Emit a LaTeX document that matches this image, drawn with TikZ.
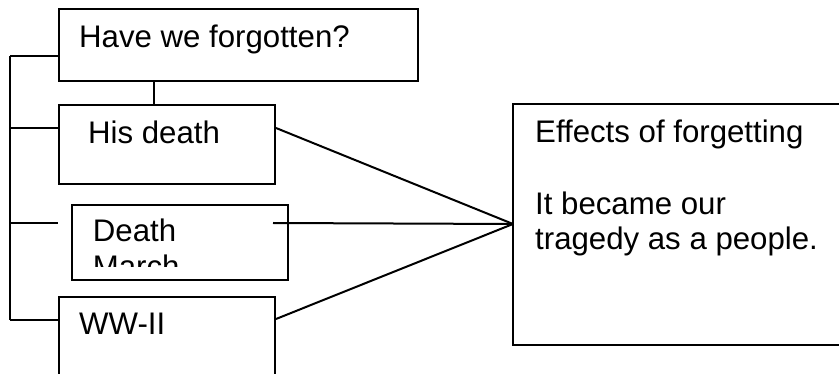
\documentclass[tikz,border=0pt]{standalone}
\usepackage{fontspec}
\setmainfont{Liberation Sans}
\begin{document}
\begin{tikzpicture}[x=1pt,y=-1pt,
  box/.style={draw, line width=2pt, rectangle, inner sep=0pt, anchor=north west},
  conn/.style={line width=2pt},
  lbl/.style={inner sep=0pt, anchor=base west, font=\fontsize{31.2}{35.6}\selectfont}]
\useasboundingbox (0,0) rectangle (839,374);
\clip (0,0) rectangle (839,374);
% boxes
\node[box, minimum width=359pt, minimum height=72pt] (top) at (58,8) {};
\node[box, minimum width=216pt, minimum height=79pt] (his) at (58,104) {};
\node[box, minimum width=216pt, minimum height=75pt] (march) at (71,204) {};
\node[box, minimum width=216pt, minimum height=100pt] (ww) at (58,296) {};
\node[box, draw=none, minimum width=450pt, minimum height=239pt] (eff) at (513,104) {};
\draw[conn] (eff.north east) -- (eff.north west) -- (eff.south west) -- (eff.south east);
% texts
\node[lbl] (ttop) at (79,48) {Have we forgotten?};
\node[lbl] (this) at (88,144) {His death};
\begin{scope}
\clip (72,205) rectangle (286,267);
\node[lbl, align=left, anchor=north west] (tmarch) at (92.7,219) {Death\\March};
\end{scope}
\node[lbl] (tww) at (79,335) {WW-II};
\node[lbl, align=left, anchor=north west] (teff) at (535,120) {Effects of forgetting\\[35.6pt]It became our\\tragedy as a people.};
% connectors
\coordinate (b1) at (10,56);
\coordinate (b2) at (10,128);
\coordinate (b3) at (10,223);
\coordinate (b4) at (10,320);
\coordinate (m3) at (58,223);
\coordinate (mr) at (273,223);
\coordinate (hub) at (513,224);
\draw[conn] (b1) -- (b4);
\draw[conn] (b1) -- (top.west |- b1);
\draw[conn] (b2) -- (his.west |- b2);
\draw[conn] (b3) -- (m3);
\draw[conn] (b4) -- (ww.west |- b4);
\draw[conn] (top.south -| 154,0) -- (his.north -| 154,0);
\draw[conn] (his.east |- 0,128) -- (hub);
\draw[conn] (mr) -- (hub);
\draw[conn] (ww.east |- 0,319) -- (hub);
\end{tikzpicture}
\end{document}
